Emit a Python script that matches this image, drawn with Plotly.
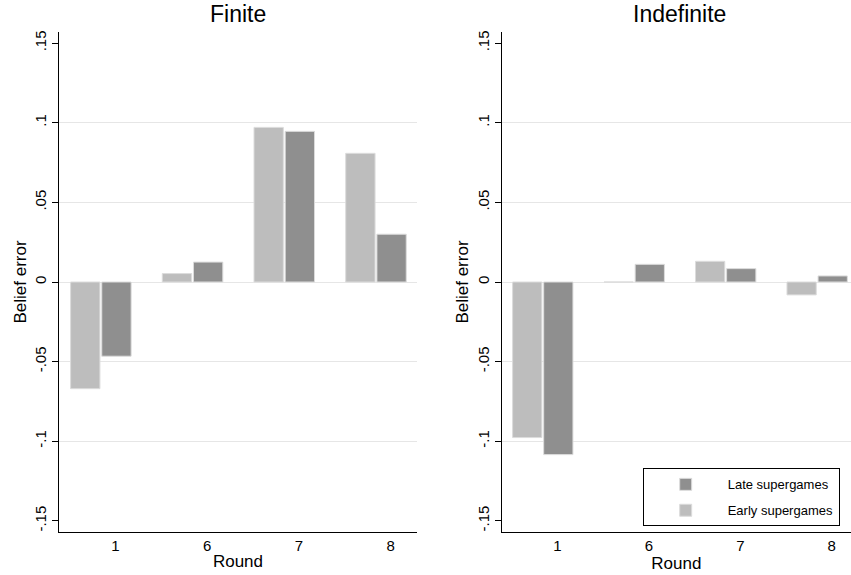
import plotly.graph_objects as go

rounds = ["1", "6", "7", "8"]
finite_early = [-0.067, 0.0053, 0.0971, 0.0808]
finite_late = [-0.0466, 0.0125, 0.0946, 0.030]
indef_early = [-0.0977, 0.0, 0.013, -0.0081]
indef_late = [-0.1084, 0.0111, 0.0084, 0.0038]

y_tickvals = [-0.15, -0.1, -0.05, 0, 0.05, 0.1, 0.15]
y_ticktext = ["-.15", "-.1", "-.05", "0", ".05", ".1", ".15"]
grid_vals = [-0.1, -0.05, 0, 0.05, 0.1]

EARLY = "#bdbdbd"
LATE = "#8f8f8f"
OUTLINE = "#dcdcdc"
FONT = "Liberation Sans, Arial, Helvetica, sans-serif"

W, H = 851, 575
idx = list(range(len(rounds)))
BW = 0.32

fig = go.Figure()

def add_panel(early, late, xa, ya, show):
    fig.add_trace(go.Bar(x=idx, y=early, name="Early supergames", marker=dict(color=EARLY, line=dict(color=OUTLINE, width=1)),
                         width=BW, offset=-0.33, xaxis=xa, yaxis=ya, showlegend=show, legendrank=2,
                         legendgroup="early"))
    fig.add_trace(go.Bar(x=idx, y=late, name="Late supergames", marker=dict(color=LATE, line=dict(color=OUTLINE, width=1)),
                         width=BW, offset=0.01, xaxis=xa, yaxis=ya, showlegend=show, legendrank=1,
                         legendgroup="late"))

add_panel(finite_early, finite_late, "x", "y", False)
add_panel(indef_early, indef_late, "x2", "y2", True)

label_pos = [i + 0.16 for i in idx]

xcommon = dict(tickmode="array", tickvals=label_pos, ticktext=rounds, showgrid=False, zeroline=False,
               showline=True, linecolor="black", linewidth=1, ticks="", tickfont=dict(size=15, color="black"),
               title=dict(text="Round", font=dict(size=17, color="black"), standoff=2))
ycommon = dict(range=[-0.157, 0.157], tickmode="array", tickvals=y_tickvals, ticktext=y_ticktext, tickangle=-90,
               showgrid=False, zeroline=False, showline=True, linecolor="black", linewidth=1,
               ticks="outside", ticklen=6, tickcolor="black", tickfont=dict(size=15, color="black"),
               minor=dict(tickmode="array", tickvals=grid_vals, showgrid=True, gridcolor="#e6e6e6", gridwidth=1, ticks=""),
               title=dict(text="Belief error", font=dict(size=17, color="black"), standoff=1))

top, bot = 31.7, 532.3
ph = bot - top

def py(pix):
    return (bot - pix) / ph

fig.update_layout(
    width=W, height=H, autosize=False,
    margin=dict(l=0, r=0, t=top, b=H - bot),
    plot_bgcolor="white", paper_bgcolor="white",
    font=dict(family=FONT, color="black"),
    barmode="overlay",
    xaxis=dict(domain=[59.3 / W, 416.7 / W], range=[-0.453, 3.444], anchor="y", **xcommon),
    xaxis2=dict(domain=[501.7 / W, 1.0], range=[-0.449, 3.37], anchor="y2", **xcommon),
    yaxis=dict(anchor="x", **ycommon),
    yaxis2=dict(anchor="x2", **ycommon),
    legend=dict(x=642.7 / W, y=py(526.7), xanchor="left", yanchor="bottom", traceorder="grouped",
                tracegroupgap=6, itemwidth=74, bordercolor="black", borderwidth=1, bgcolor="white",
                font=dict(size=13, color="black")),
    showlegend=True,
    annotations=[
        dict(text="Finite", x=237.8 / W, y=py(14), xref="paper", yref="paper",
             showarrow=False, xanchor="center", yanchor="middle", font=dict(size=23, color="black")),
        dict(text="Indefinite", x=679.5 / W, y=py(14), xref="paper", yref="paper",
             showarrow=False, xanchor="center", yanchor="middle", font=dict(size=23, color="black")),
    ],
)

fig.write_html("out.html", config={"displayModeBar": False},
               post_script="document.body.style.margin='0';")
